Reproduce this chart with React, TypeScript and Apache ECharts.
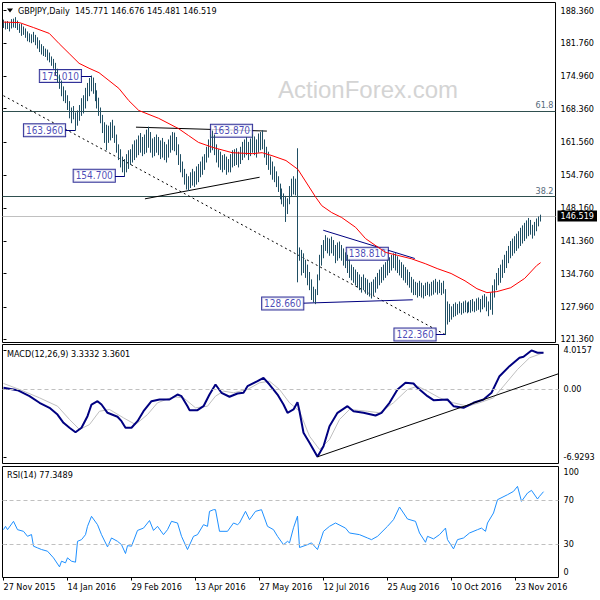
import React, { useEffect, useRef } from "react";
import * as echarts from "echarts";

const symbolTitle = "GBPJPY,Daily";
const lastOHLC = [145.771, 146.676, 145.481, 146.519];
const dateLabels = ["27 Nov 2015", "14 Jan 2016", "29 Feb 2016", "13 Apr 2016", "27 May 2016", "12 Jul 2016", "25 Aug 2016", "10 Oct 2016", "23 Nov 2016"];
const dateTickBars = [0, 32, 64, 96, 128, 160, 192, 224, 256];
const priceTicks = [188.36, 181.76, 174.96, 168.36, 161.56, 154.76, 148.16, 141.36, 134.76, 127.96, 121.36];
const lastPrice = 146.519;
const macdTicks = [4.0157, 0, -6.9293];
const macdLast = [3.3332, 3.3601];
const rsiTicks = [0, 30, 70, 100];
const rsiLevels = [70, 30];
const rsiLast = 77.3489;
const fibLevels = [167.9, 150.45];
const fibNames = ["61.8", "38.2"];

const barLow = [
  184.9, 184.6, 184.7, 184.2, 184.8, 185.0, 184.9, 184.5, 183.9, 183.3,
  183.5, 182.9, 182.2, 182.0, 181.8, 182.0, 181.4, 180.7, 180.0, 179.5,
  179.2, 179.0, 178.3, 177.9, 177.2, 176.6, 175.3, 173.8, 172.5, 171.0,
  170.0, 169.6, 168.2, 166.5, 165.5, 166.3, 163.96, 165.0, 166.0, 167.0,
  167.5, 168.5, 170.0, 171.0, 172.0, 171.5, 170.0, 168.5, 167.0, 165.5,
  163.5, 161.5, 160.0, 161.5, 162.0, 162.5, 161.5, 159.5, 158.0, 156.5,
  155.5, 154.7, 155.5, 156.2, 157.0, 157.5, 158.0, 158.5, 159.0, 159.5,
  158.8, 159.2, 159.5, 160.5, 159.5, 158.5, 158.8, 159.5, 159.0, 158.2,
  158.5, 158.0, 157.5, 158.5, 159.5, 160.0, 159.8, 159.0, 157.0, 155.5,
  154.5, 153.0, 152.0, 151.7, 152.3, 152.8, 152.5, 153.0, 153.5, 154.5,
  155.0, 156.0, 157.5, 158.5, 159.5, 160.0, 159.0, 157.5, 156.5, 156.0,
  155.5, 156.0, 155.0, 155.5, 155.5, 156.5, 156.8, 157.0, 156.5, 157.2,
  158.0, 158.5, 159.0, 158.0, 158.8, 159.5, 159.0, 158.5, 159.5, 160.0,
  160.2, 158.5, 157.0, 156.0, 155.0, 154.0, 153.5, 152.5, 151.5, 150.0,
  149.0, 148.5, 145.4, 147.0, 149.0, 150.5, 151.0, 150.8, 133.1, 137.5,
  134.5, 135.0, 134.0, 132.5, 131.5, 129.5, 129.0, 128.66, 130.5, 133.5,
  136.5, 138.0, 139.5, 139.0, 138.5, 139.0, 138.5, 137.0, 137.5, 138.0,
  137.5, 136.5, 136.0, 135.0, 134.0, 133.5, 133.0, 132.5, 132.0, 131.5,
  131.0, 131.5, 130.8, 130.5, 130.2, 129.8, 130.5, 131.0, 131.8, 132.5,
  133.0, 133.5, 134.0, 134.5, 135.0, 135.5, 136.0, 135.5, 135.0, 134.5,
  134.0, 133.5, 133.0, 132.5, 132.0, 131.0, 130.5, 130.5, 130.0, 130.3,
  130.0, 129.8, 130.3, 130.5, 130.2, 130.4, 130.6, 131.0, 130.6, 130.9,
  130.5, 130.8, 122.36, 124.5, 125.0, 125.5, 126.0, 126.2, 126.5, 126.8,
  126.5, 126.8, 127.0, 126.8, 127.0, 126.9, 127.2, 127.0, 127.3, 127.5,
  127.0, 127.6, 128.0, 127.2, 126.2, 127.5, 126.5, 130.0, 131.5, 132.5,
  133.0, 134.0, 135.0, 136.0, 137.0, 138.0, 138.5, 139.0, 139.5, 140.0,
  140.5, 141.0, 141.5, 142.0, 142.5, 142.8, 142.0, 142.6, 143.5, 144.5,
  145.481
];
const barHigh = [
  186.4, 186.0, 186.1, 185.8, 186.5, 186.6, 186.9, 186.2, 185.6, 185.5,
  185.0, 184.6, 184.0, 183.6, 183.4, 183.9, 183.3, 182.8, 182.2, 181.4,
  181.0, 180.5, 180.3, 179.7, 178.9, 178.4, 177.6, 176.4, 175.2, 174.0,
  172.8, 172.0, 171.0, 169.8, 168.5, 168.8, 167.5, 167.9, 169.0, 170.4,
  171.0, 172.5, 173.5, 174.5, 175.01, 174.6, 173.5, 172.0, 170.5, 168.5,
  167.0, 165.5, 165.0, 164.8, 165.5, 166.0, 164.8, 163.0, 161.0, 160.0,
  158.5, 158.0, 159.0, 159.8, 160.0, 161.0, 161.8, 162.0, 162.8, 163.3,
  162.5, 163.0, 164.0, 164.6, 163.5, 162.2, 162.5, 163.0, 162.5, 161.8,
  162.3, 161.5, 161.0, 162.0, 162.8, 163.5, 163.4, 162.5, 161.0, 159.0,
  157.5, 156.0, 155.0, 154.5, 155.3, 156.0, 155.5, 156.5, 157.0, 157.5,
  158.5, 159.0, 160.5, 162.0, 163.0, 163.8, 163.0, 161.0, 160.0, 159.5,
  158.8, 159.0, 158.5, 158.0, 159.0, 159.8, 160.0, 160.2, 159.5, 160.5,
  161.5, 162.0, 162.5, 161.5, 162.2, 163.0, 162.6, 162.0, 163.2, 163.5,
  163.87, 162.0, 160.5, 159.5, 158.5, 157.5, 156.5, 155.5, 154.5, 153.0,
  152.0, 151.0, 150.5, 150.0, 152.5, 154.0, 154.5, 154.0, 160.2, 140.0,
  139.5, 138.8, 137.5, 136.5, 135.0, 133.5, 132.0, 131.5, 134.5, 138.5,
  140.5, 141.5, 142.5, 142.0, 141.8, 142.2, 141.5, 140.5, 141.0, 141.2,
  140.5, 139.8, 139.0, 138.5, 137.5, 136.5, 136.0, 135.5, 135.0, 134.5,
  134.0, 134.5, 133.8, 133.5, 132.8, 133.0, 133.5, 134.0, 134.8, 135.5,
  136.0, 136.5, 137.0, 137.5, 138.0, 138.5, 138.8, 138.81, 138.2, 137.5,
  137.0, 136.5, 136.0, 135.5, 135.0, 134.0, 133.5, 133.0, 132.8, 133.2,
  132.8, 132.3, 132.8, 133.0, 132.6, 133.0, 133.3, 133.6, 133.0, 133.4,
  132.8, 133.2, 131.5, 129.0, 128.5, 128.0, 128.5, 128.8, 128.5, 129.0,
  128.7, 129.0, 129.2, 128.8, 129.0, 129.3, 129.5, 129.0, 129.6, 129.8,
  129.5, 130.2, 130.5, 130.0, 129.0, 130.8, 132.3, 133.5, 134.8, 135.8,
  136.5, 137.5, 138.5, 139.3, 140.3, 141.3, 141.8, 142.3, 142.8, 143.3,
  144.0, 144.5, 145.0, 145.5, 146.0, 145.6, 144.6, 145.2, 145.9, 146.3,
  146.676
];

const ma55 = [
  [0, 186.0], [8, 185.9], [15, 184.9], [23, 183.7], [28, 181.6], [33, 179.6], [38, 177.6], [43, 176.6],
  [48, 175.7], [53, 174.1], [58, 172.5], [63, 170.0], [68, 168.0], [78, 166.4], [88, 164.3], [93, 162.9],
  [98, 161.5], [105, 160.5], [115, 159.4], [125, 159.2], [130, 159.4], [135, 158.8], [142, 157.8], [148, 156.0],
  [157, 150.3], [160, 148.6], [165, 147.2], [170, 146.2], [177, 144.2], [182, 141.9], [192, 139.1], [198, 138.5],
  [205, 137.8], [212, 136.8], [218, 135.8], [225, 134.8], [232, 133.3], [238, 131.7], [243, 130.9], [248, 131.1],
  [255, 131.9], [262, 133.8], [268, 136.4], [270, 137.0]
];

const macdMain = [
  [0, 0.17], [7, -0.07], [13, -0.69], [18, -1.37], [23, -1.89], [27, -2.58], [30, -3.43], [33, -3.94],
  [36, -4.4], [39, -3.94], [42, -2.75], [44, -1.55], [47, -1.21], [49, -1.55], [52, -2.4], [57, -2.81],
  [59, -3.26], [61, -3.94], [64, -3.94], [67, -3.26], [70, -2.24], [74, -1.21], [78, -1.03], [83, -1.03],
  [87, -0.52], [89, -0.69], [92, -1.72], [93, -2.13], [97, -2.13], [100, -1.72], [103, -0.52], [106, 0.51],
  [109, -0.34], [113, -0.75], [117, -0.41], [120, -0.34], [122, 0.34], [127, 0.85], [130, 1.2], [133, 0.51],
  [137, -0.52], [140, -1.55], [142, -2.4], [145, -2.06], [147, -1.31], [148, -2.24], [150, -4.46], [153, -5.49],
  [157, -6.93], [160, -5.84], [163, -3.78], [167, -2.4], [172, -1.72], [175, -2.24], [180, -2.4], [186, -2.68],
  [189, -2.4], [193, -1.37], [197, 0.0], [201, 0.69], [205, 0.62], [207, 0.17], [212, -0.69], [215, -1.1],
  [222, -1.03], [225, -1.72], [230, -1.89], [235, -1.37], [240, -1.03], [244, -0.34], [248, 1.37], [253, 2.4],
  [258, 3.26], [260, 3.37], [264, 4.02], [267, 3.78], [270, 3.78]
];
const macdSignal = [
  [0, 0.62], [8, 0.0], [18, -0.86], [27, -1.72], [33, -3.09], [38, -4.12], [43, -3.61], [48, -2.24],
  [53, -2.06], [60, -2.92], [66, -3.61], [72, -2.58], [77, -1.37], [85, -0.75], [90, -0.86], [96, -1.89],
  [102, -1.72], [106, -0.69], [110, -0.17], [115, -0.34], [122, 0.0], [128, 0.69], [133, 0.85], [138, 0.0],
  [143, -1.37], [148, -2.24], [153, -4.81], [158, -6.18], [163, -5.15], [168, -3.09], [173, -2.06], [182, -2.24],
  [188, -2.4], [195, -1.37], [202, 0.0], [207, 0.34], [212, -0.17], [218, -0.86], [225, -1.37], [232, -1.72],
  [238, -1.37], [245, -0.86], [250, 0.34], [257, 2.06], [263, 3.26], [270, 3.78]
];
const rsi14 = [
  [0, 43.1], [1, 46.1], [2, 43.1], [5, 50.6], [7, 43.1], [10, 41.6], [12, 37.1], [14, 38.7], [15, 28.2],
  [17, 26.7], [19, 25.2], [22, 23.7], [25, 17.7], [28, 9.6], [29, 14.7], [31, 13.2], [32, 17.7], [34, 14.7],
  [36, 13.8], [37, 32.6], [39, 34.1], [41, 38.6], [42, 46.1], [44, 55.1], [47, 47.6], [49, 38.6], [52, 27.6],
  [54, 35.6], [57, 32.6], [59, 29.6], [61, 21.6], [62, 28.7], [64, 28.2], [67, 42.4], [70, 44.5], [73, 51.3],
  [75, 42.4], [77, 46.1], [80, 38.6], [82, 43.1], [84, 50.6], [87, 49.1], [89, 37.1], [92, 25.2], [95, 37.1],
  [97, 38.6], [100, 47.6], [102, 46.1], [103, 59.6], [105, 61.1], [106, 61.1], [108, 41.6], [112, 41.6],
  [115, 49.1], [117, 47.6], [118, 49.1], [121, 59.6], [123, 52.1], [126, 59.6], [129, 61.1], [132, 46.1],
  [135, 43.1], [137, 37.1], [140, 29.6], [142, 32.6], [143, 31.2], [145, 44.8], [147, 55.3], [148, 27.0],
  [152, 29.6], [154, 31.2], [157, 25.2], [160, 41.6], [163, 46.1], [166, 49.1], [171, 44.5], [173, 40.1],
  [178, 38.6], [182, 35.6], [184, 34.1], [187, 37.1], [192, 46.1], [195, 52.1], [198, 63.5], [200, 58.1],
  [202, 52.7], [206, 50.6], [208, 40.1], [211, 31.7], [212, 37.1], [215, 34.8], [218, 38.6], [221, 44.5],
  [222, 34.1], [225, 25.8], [227, 34.1], [230, 35.6], [233, 40.1], [237, 43.1], [239, 44.5], [241, 41.6],
  [242, 49.1], [245, 58.1], [247, 70.1], [252, 74.6], [255, 77.6], [257, 82.1], [259, 68.6], [262, 76.1],
  [264, 78.5], [267, 70.7], [268, 73.1], [270, 77.3]
];

const calloutBars = [44, 36, 61, 130, 197, 157, 222];
const calloutPrices = [175.01, 163.96, 154.7, 163.87, 138.81, 128.66, 122.36];
const trendDashed = [[0, 171.0], [222, 122.36]];
const trendTop = [[66.6, 164.6], [132.4, 163.8]];
const trendRise = [[71.1, 150.0], [128.75, 154.4]];
const navyUpper = [[160.75, 143.6], [206.75, 137.85]];
const navyLower = [[150.75, 128.75], [205.75, 129.44]];
const macdTrend = [[157, -6.93], [277.5, 1.62]];

const FONT = "'DejaVu Sans Condensed', 'Liberation Sans', Arial, sans-serif";
const BAR = "#1f4e63";
const NAVY = "#000080";
const FIB = "#2f4f4f";

export default function App() {
  const ref = useRef<HTMLDivElement>(null);
  useEffect(() => {
    document.body.style.margin = "0";
    const chart = echarts.init(ref.current as HTMLDivElement, null, { renderer: "svg" });
    const xBase = { type: "value", min: -0.5, max: 277.5 };
    const gridBase = { left: 2.5, right: 41.5, show: true, borderColor: "#000", borderWidth: 1 };
    const lbl = { fontSize: 9, color: "#000", fontFamily: FONT };
    const seg = (pts: number[][], color: string, type: any = "solid") => [
      { coord: pts[0], lineStyle: { color, width: 1, type } },
      { coord: pts[1] },
    ];
    const gaps = [10, 10, 10, 10, 7.5, 12.5, 9.5];
    const connectors = [0, 1, 2, 6].map((k) =>
      seg([[calloutBars[k] - 5, calloutPrices[k]], [calloutBars[k], calloutPrices[k]]], NAVY)
    );

    const option: any = {
      animation: false,
      textStyle: { fontFamily: FONT },
      grid: [
        { ...gridBase, top: 2.5, height: 340 },
        { ...gridBase, top: 344.5, height: 119 },
        { ...gridBase, top: 466.5, height: 111 },
      ],
      xAxis: [
        { ...xBase, gridIndex: 0, show: false },
        { ...xBase, gridIndex: 1, show: false },
        {
          ...xBase,
          gridIndex: 2,
          axisLine: { show: false },
          splitLine: { show: false },
          axisTick: { show: true, customValues: dateTickBars, length: 3, lineStyle: { color: "#000" } },
          axisLabel: {
            ...lbl,
            customValues: dateTickBars,
            formatter: (v: number) => {
              const k = dateTickBars.indexOf(Math.round(v));
              return k >= 0 ? dateLabels[k] : "";
            },
            align: "left",
            margin: 5,
          },
        },
      ],
      yAxis: [
        {
          type: "value", gridIndex: 0, position: "right", min: 120.74, max: 189.99,
          splitLine: { show: false }, axisLine: { show: false },
          axisTick: { show: true, customValues: priceTicks, length: 3, lineStyle: { color: "#000" } },
          axisLabel: { ...lbl, customValues: priceTicks, formatter: (v: number) => v.toFixed(3), margin: 5 },
        },
        {
          type: "value", gridIndex: 1, position: "right", min: -7.62, max: 4.63,
          splitLine: { show: false }, axisLine: { show: false },
          axisTick: { show: true, customValues: macdTicks, length: 3, lineStyle: { color: "#000" } },
          axisLabel: {
            ...lbl, customValues: macdTicks, margin: 5,
            formatter: (v: number) => (Math.abs(v) < 1e-9 ? "0.00" : v.toFixed(4)),
          },
        },
        {
          type: "value", gridIndex: 2, position: "right", min: 0, max: 100,
          splitLine: { show: false }, axisLine: { show: false },
          axisTick: { show: true, customValues: rsiTicks, length: 3, lineStyle: { color: "#000" } },
          axisLabel: {
            ...lbl, customValues: rsiTicks, margin: 5,
            formatter: (v: number) => (v === 100 ? "{t|100}" : v === 0 ? "{b|0}" : String(v)),
            rich: {
              t: { ...lbl, padding: [11, 0, 0, 0] },
              b: { ...lbl, padding: [0, 0, 11, 0] },
            },
          },
        },
        {
          type: "value", gridIndex: 0, position: "right", min: 120.74, max: 189.99,
          splitLine: { show: false }, axisLine: { show: false }, axisTick: { show: false },
          axisLabel: {
            fontSize: 9, fontFamily: FONT, customValues: [lastPrice], margin: 2,
            formatter: (v: number) => v.toFixed(3),
            color: "#fff", backgroundColor: "#000", padding: [1, 3, 1, 3],
          },
        },
      ],
      graphic: [
        {
          type: "text", x: 278, y: 89, z: -1, silent: true,
          style: { text: "ActionForex.com", fontSize: 24, fontFamily: "'Liberation Sans', Arial, sans-serif", fill: "#d4d4d4", verticalAlign: "middle" },
        },
        { type: "polygon", shape: { points: [[7, 8.5], [13, 8.5], [10, 12.5]] }, style: { fill: "#000" }, silent: true },
        {
          type: "text", x: 18, y: 10.5, silent: true,
          style: { text: symbolTitle + "  " + lastOHLC.map((v) => v.toFixed(3)).join(" "), fontSize: 9, fontFamily: FONT, fill: "#000", verticalAlign: "middle" },
        },
        {
          type: "text", x: 7, y: 353.5, silent: true,
          style: { text: "MACD(12,26,9) " + macdLast.map((v) => v.toFixed(4)).join(" "), fontSize: 9, fontFamily: FONT, fill: "#000", verticalAlign: "middle" },
        },
        {
          type: "text", x: 7, y: 475, silent: true,
          style: { text: "RSI(14) " + rsiLast.toFixed(4), fontSize: 9, fontFamily: FONT, fill: "#000", verticalAlign: "middle" },
        },
      ],
      series: [
        {
          name: "annotations", type: "line", xAxisIndex: 0, yAxisIndex: 0, data: [], silent: true,
          markLine: {
            silent: true, z: 5, symbol: ["none", "none"], animation: false,
            label: { show: false },
            data: [
              ...fibLevels.map((lv, k) => ({
                yAxis: lv,
                lineStyle: { color: FIB, width: 1, type: "solid" },
                label: { show: true, position: "insideEndTop", formatter: fibNames[k], color: "#55697a", fontSize: 9, fontFamily: FONT, distance: [2, 1] },
              })),
              { yAxis: lastPrice, lineStyle: { color: "#c0c0c0", width: 1, type: "solid" } },
              seg(trendDashed, "#000", [2, 3]),
              seg(trendTop, "#000"),
              seg(trendRise, "#000"),
              seg(navyUpper, NAVY),
              seg(navyLower, NAVY),
              ...connectors,
            ],
          },
        },
        {
          name: "callouts", type: "scatter", xAxisIndex: 0, yAxisIndex: 0, z: 6, symbolSize: 0, silent: true,
          data: calloutBars.map((b, k) => ({
            value: [b, calloutPrices[k]],
            label: {
              show: true, position: "left", distance: gaps[k], formatter: calloutPrices[k].toFixed(3),
              color: "#1a1aa6", fontSize: 10, fontFamily: FONT, backgroundColor: "#fff",
              borderColor: NAVY, borderWidth: 1, padding: [1, 2, 0, 2], lineHeight: 11,
            },
          })),
        },
        {
          name: "GBPJPY", type: "custom", xAxisIndex: 0, yAxisIndex: 0, z: 7, silent: true,
          data: barLow.map((lo, i) => [i, lo, barHigh[i]]),
          encode: { x: 0, y: [1, 2] },
          renderItem: (params: any, api: any) => {
            const lo = api.coord([api.value(0), api.value(1)]);
            const hi = api.coord([api.value(0), api.value(2)]);
            const x = Math.floor(lo[0]) + 0.5;
            return { type: "line", shape: { x1: x, y1: lo[1] + 0.5, x2: x, y2: hi[1] - 0.5 }, style: { stroke: BAR, lineWidth: 1 } };
          },
        },
        {
          name: "MA", type: "line", xAxisIndex: 0, yAxisIndex: 0, z: 8, data: ma55, showSymbol: false, symbol: "none",
          lineStyle: { color: "#ff0000", width: 1 }, silent: true,
        },
        {
          name: "Signal", type: "line", xAxisIndex: 1, yAxisIndex: 1, z: 3, data: macdSignal, symbol: "none",
          lineStyle: { color: "#c0c0c0", width: 1 }, silent: true,
          markLine: {
            silent: true, symbol: ["none", "none"], label: { show: false },
            data: [
              { yAxis: 0, lineStyle: { color: "#c0c0c0", width: 1, type: [4, 3] } },
              seg(macdTrend, "#000"),
            ],
          },
        },
        {
          name: "MACD", type: "line", xAxisIndex: 1, yAxisIndex: 1, z: 4, data: macdMain, symbol: "none",
          lineStyle: { color: NAVY, width: 2 }, silent: true,
        },
        {
          name: "RSI", type: "line", xAxisIndex: 2, yAxisIndex: 2, z: 4, data: rsi14, symbol: "none",
          lineStyle: { color: "#1e90ff", width: 1 }, silent: true,
          markLine: {
            silent: true, symbol: ["none", "none"], label: { show: false },
            data: rsiLevels.map((lv) => ({ yAxis: lv, lineStyle: { color: "#c0c0c0", width: 1, type: [4, 3] } })),
          },
        },
      ],
    };
    chart.setOption(option);
    return () => chart.dispose();
  }, []);
  return <div ref={ref} style={{ position: "absolute", left: 0, top: 0, width: 600, height: 600 }} />;
}
